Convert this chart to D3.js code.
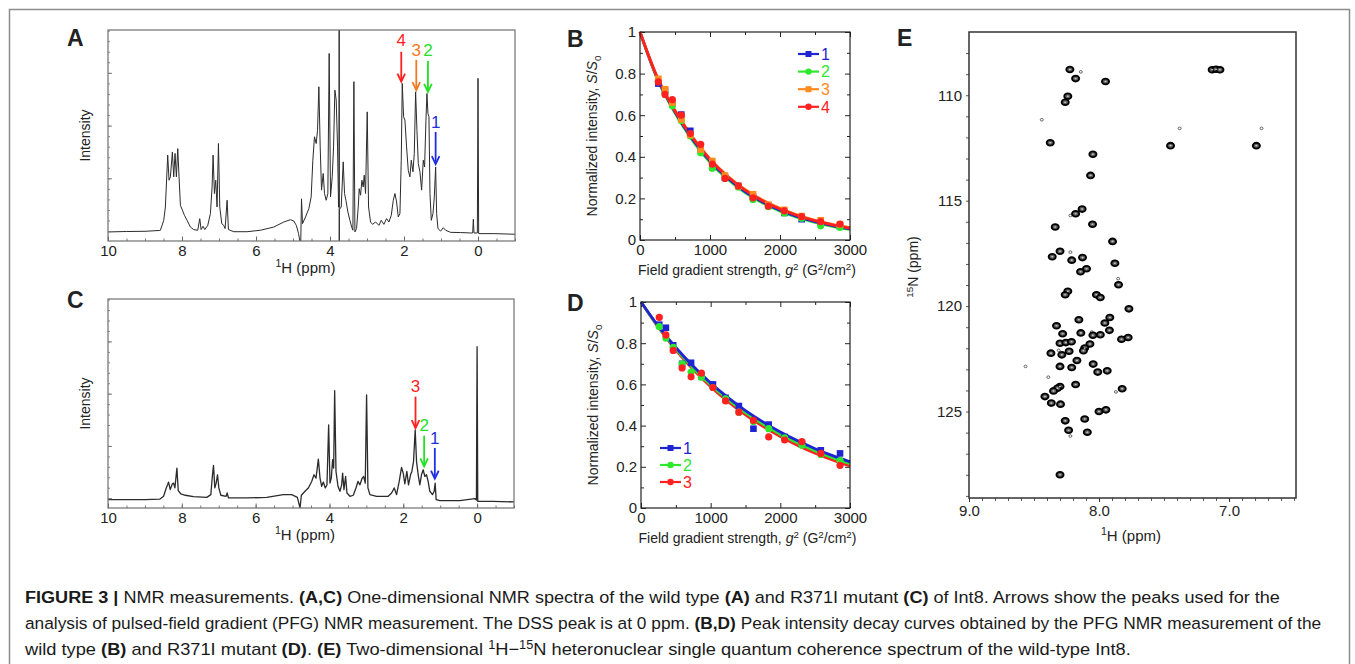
<!DOCTYPE html>
<html>
<head>
<meta charset="utf-8">
<script src="https://cdn.jsdelivr.net/npm/d3@7"></script>
<style>
  body { margin: 0; background: #fff; }
  text { font-family: "Liberation Sans", Arial, Helvetica, sans-serif; fill: #222; }
</style>
</head>
<body>
<script>
// ---------- data ----------
// 1D spectra: [ppm, relative intensity]
const specA = [[10,0.043],[9.5,0.045],[9,0.046],[8.6,0.05],[8.584,0.051],[8.494,0.098],[8.449,0.161],[8.386,0.407],[8.35,0.288],[8.314,0.304],[8.26,0.422],[8.224,0.304],[8.188,0.415],[8.152,0.304],[8.115,0.438],[8.08,0.304],[8.043,0.169],[7.989,0.146],[7.935,0.122],[7.863,0.098],[7.773,0.066],[7.683,0.054],[7.574,0.051],[7.52,0.106],[7.484,0.054],[7.43,0.07],[7.385,0.054],[7.304,0.074],[7.232,0.13],[7.187,0.256],[7.16,0.407],[7.124,0.225],[7.088,0.288],[7.052,0.161],[7.015,0.462],[6.979,0.161],[6.925,0.082],[6.871,0.074],[6.835,0.059],[6.781,0.193],[6.745,0.054],[6.6,0.044],[6.24,0.044],[5.88,0.051],[5.52,0.066],[5.25,0.09],[5.07,0.101],[4.98,0.095],[4.91,0.074],[4.85,0.035],[4.815,0],[4.79,0],[4.77,0.2],[4.743,0.082],[4.662,0.114],[4.572,0.153],[4.509,0.209],[4.464,0.383],[4.419,0.494],[4.373,0.462],[4.337,0.525],[4.301,0.731],[4.265,0.446],[4.229,0.241],[4.184,0.32],[4.148,0.225],[4.103,0.193],[4.058,0.225],[4.022,0.889],[3.986,0.209],[3.94,0.304],[3.904,0.446],[3.868,0.715],[3.832,0.668],[3.796,0.446],[3.769,0.161],[3.755,0.16],[3.752,1.0],[3.75,0],[3.747,0.15],[3.697,0.161],[3.643,0.375],[3.607,0.225],[3.57,0.193],[3.517,0.138],[3.462,0.098],[3.408,0.063],[3.381,0.051],[3.354,0.755],[3.327,0.043],[3.282,0.059],[3.237,0.161],[3.21,0.248],[3.174,0.217],[3.138,0.288],[3.102,0.256],[3.075,0.312],[3.039,0.225],[2.994,0.612],[2.958,0.161],[2.904,0.09],[2.85,0.079],[2.768,0.09],[2.678,0.074],[2.615,0.098],[2.543,0.079],[2.471,0.106],[2.408,0.09],[2.344,0.122],[2.29,0.193],[2.245,0.225],[2.2,0.185],[2.155,0.114],[2.11,0.13],[2.074,0.383],[2.047,0.747],[2.011,0.589],[1.975,0.573],[1.93,0.446],[1.885,0.335],[1.84,0.304],[1.803,0.383],[1.758,0.328],[1.722,0.415],[1.686,0.707],[1.65,0.525],[1.614,0.367],[1.569,0.328],[1.524,0.241],[1.479,0.383],[1.443,0.351],[1.407,0.573],[1.38,0.699],[1.353,0.604],[1.326,0.589],[1.298,0.225],[1.262,0.098],[1.217,0.13],[1.181,0.209],[1.145,0.351],[1.118,0.13],[1.082,0.059],[1.01,0.047],[0.938,0.063],[0.875,0.051],[0.74,0.041],[0.469,0.04],[0.198,0.038],[0.144,0.038],[0.126,0.103],[0.108,0.038],[0.018,0.038],[0,0.771],[-0.018,0.035],[-0.43,0.035],[-1,0.032]];

const specC = [[10,0.04],[9,0.04],[8.6,0.042],[8.494,0.056],[8.422,0.096],[8.386,0.111],[8.359,0.124],[8.314,0.088],[8.26,0.115],[8.224,0.119],[8.188,0.096],[8.133,0.191],[8.097,0.083],[8.025,0.067],[7.908,0.061],[7.683,0.054],[7.322,0.051],[7.214,0.064],[7.169,0.159],[7.142,0.204],[7.106,0.096],[7.07,0.119],[7.033,0.159],[6.997,0.096],[6.943,0.061],[6.799,0.056],[6.772,0.072],[6.736,0.048],[6.24,0.048],[5.699,0.051],[5.25,0.064],[5.023,0.064],[4.869,0.051],[4.797,0],[4.761,0.061],[4.662,0.08],[4.572,0.096],[4.481,0.127],[4.419,0.159],[4.364,0.143],[4.301,0.234],[4.256,0.143],[4.211,0.104],[4.166,0.124],[4.112,0.096],[4.067,0.111],[4.022,0.398],[3.986,0.119],[3.95,0.143],[3.914,0.231],[3.886,0.191],[3.859,0.561],[3.823,0.175],[3.769,0.104],[3.715,0.08],[3.67,0.111],[3.643,0.167],[3.607,0.088],[3.562,0.151],[3.526,0.072],[3.444,0.056],[3.354,0.061],[3.282,0.096],[3.228,0.127],[3.174,0.111],[3.12,0.14],[3.075,0.151],[3.03,0.119],[2.994,0.541],[2.958,0.096],[2.904,0.064],[2.723,0.056],[2.408,0.056],[2.317,0.072],[2.245,0.096],[2.182,0.064],[2.11,0.127],[2.047,0.194],[2.002,0.167],[1.957,0.115],[1.903,0.175],[1.858,0.111],[1.803,0.159],[1.767,0.175],[1.722,0.223],[1.677,0.374],[1.641,0.223],[1.596,0.159],[1.551,0.111],[1.506,0.159],[1.461,0.183],[1.416,0.151],[1.371,0.159],[1.326,0.127],[1.281,0.08],[1.208,0.064],[1.163,0.08],[1.136,0.119],[1.109,0.04],[1.01,0.035],[0.469,0.035],[0.063,0.045],[0.018,0.038],[0,0.772],[-0.018,0.032],[-0.43,0.032],[-1,0.029]];

// arrows: peak number, ppm, label / tail / tip intensity
const arrowsA = [
  {n:"4", ppm:2.074, label:0.953, tail:0.897, tip:0.755, color:"#ff1f1f"},
  {n:"3", ppm:1.668, label:0.905, tail:0.858, tip:0.715, color:"#f07a22"},
  {n:"2", ppm:1.353, label:0.905, tail:0.853, tip:0.707, color:"#22e022"},
  {n:"1", ppm:1.145, label:0.565, tail:0.517, tip:0.364, color:"#1f2fe0"}
];
const arrowsC = [
  {n:"3", ppm:1.668, label:0.586, tail:0.533, tip:0.382, color:"#ff1f1f"},
  {n:"2", ppm:1.434, label:0.398, tail:0.346, tip:0.199, color:"#22e022"},
  {n:"1", ppm:1.145, label:0.334, tail:0.287, tip:0.14, color:"#1f2fe0"}
];
const ppmTicks = [10, 8, 6, 4, 2, 0];

// PFG decay: g^2 (G^2/cm^2) and S/S0
const g2 = [262, 357, 462, 590, 719, 867, 1033, 1214, 1405, 1614, 1833, 2062, 2310, 2581, 2857];
const B1 = [0.752, 0.72, 0.655, 0.603, 0.525, 0.44, 0.35, 0.30, 0.26, 0.21, 0.165, 0.13, 0.10, 0.085, 0.065];
const B2 = [0.765, 0.71, 0.645, 0.575, 0.50, 0.42, 0.345, 0.30, 0.255, 0.195, 0.16, 0.13, 0.105, 0.068, 0.06];
const B3 = [0.775, 0.725, 0.66, 0.58, 0.505, 0.435, 0.38, 0.31, 0.26, 0.22, 0.17, 0.145, 0.115, 0.095, 0.075];
const B4 = [0.76, 0.70, 0.675, 0.60, 0.512, 0.46, 0.365, 0.296, 0.26, 0.203, 0.163, 0.14, 0.112, 0.088, 0.077];
const D1 = [0.89, 0.875, 0.79, 0.70, 0.705, 0.64, 0.60, 0.535, 0.495, 0.385, 0.405, 0.345, 0.31, 0.28, 0.265];
const D2 = [0.88, 0.825, 0.78, 0.70, 0.66, 0.635, 0.585, 0.53, 0.465, 0.42, 0.385, 0.34, 0.305, 0.26, 0.23];
const D3 = [0.925, 0.84, 0.765, 0.68, 0.637, 0.655, 0.585, 0.52, 0.465, 0.425, 0.345, 0.33, 0.322, 0.265, 0.207];
// fitted curves, read at these g^2
const fitX = [0, 250, 500, 750, 1000, 1250, 1500, 1750, 2000, 2250, 2500, 2750, 3000];
const fitB1 = [1, 0.775, 0.615, 0.485, 0.38, 0.298, 0.233, 0.183, 0.143, 0.112, 0.088, 0.069, 0.054];
const fitB2 = [1, 0.772, 0.61, 0.478, 0.373, 0.292, 0.228, 0.178, 0.139, 0.109, 0.085, 0.066, 0.051];
const fitB3 = [1, 0.78, 0.623, 0.495, 0.39, 0.308, 0.243, 0.192, 0.152, 0.12, 0.095, 0.075, 0.059];
const fitB4 = [1, 0.779, 0.62, 0.492, 0.387, 0.305, 0.24, 0.189, 0.149, 0.118, 0.093, 0.073, 0.057];
const fitD1 = [1, 0.882, 0.779, 0.688, 0.607, 0.536, 0.473, 0.418, 0.369, 0.326, 0.288, 0.254, 0.224];
const fitD2 = [1, 0.879, 0.773, 0.68, 0.598, 0.526, 0.463, 0.407, 0.358, 0.315, 0.277, 0.244, 0.215];
const fitD3 = [1, 0.876, 0.767, 0.672, 0.589, 0.516, 0.452, 0.396, 0.347, 0.304, 0.266, 0.233, 0.204];
const gTicks = [0, 1000, 2000, 3000];
const sTicks = [0, 0.2, 0.4, 0.6, 0.8, 1];

// 2D HSQC cross peaks: [1H ppm, 15N ppm]
const hsqcPeaks = [[8.224,108.78],[8.18,109.21],[7.95,109.35],[7.13,108.79],[7.10,108.77],[7.07,108.79],[8.24,110.05],[8.26,110.33],[8.375,112.25],[7.45,112.39],[6.79,112.39],[8.047,112.8],[8.065,113.8],[8.13,115.4],[8.18,115.62],[8.337,116.25],[8.05,116.12],[7.896,116.93],[8.30,117.4],[8.36,117.66],[8.21,117.82],[8.127,117.7],[7.878,117.97],[8.142,118.37],[8.096,118.23],[7.85,118.99],[8.24,119.3],[8.26,119.46],[8.02,119.46],[7.99,119.59],[7.77,120.13],[8.155,120.65],[7.917,120.54],[7.955,120.8],[8.327,120.93],[8.28,121.31],[8.14,121.27],[8.047,121.38],[7.99,121.36],[7.92,121.15],[7.827,121.57],[7.776,121.49],[8.30,121.76],[8.255,121.73],[8.212,121.69],[8.07,121.8],[8.11,121.99],[8.12,122.12],[8.37,122.23],[8.286,122.31],[8.23,122.14],[8.17,122.58],[8.30,122.86],[8.21,122.91],[8.045,122.75],[8.01,123.13],[7.937,123.07],[8.18,123.72],[8.30,123.81],[8.32,123.9],[8.35,124.02],[8.416,124.29],[8.367,124.6],[8.296,124.65],[7.822,123.92],[8.0,125.0],[7.947,124.92],[8.26,125.44],[8.11,125.35],[8.234,125.89],[8.09,125.98],[8.30,128.0]];
const hsqcWeak = [[8.14,108.89],[8.44,111.16],[7.38,111.57],[6.75,111.57],[8.22,115.7],[8.22,117.44],[7.853,118.7],[8.055,121.23],[8.31,122.1],[8.39,123.37],[7.87,124.07],[8.565,122.86],[8.22,126.16]];
const hTicks = [9.0, 8.0, 7.0];
const nTicks = [110, 115, 120, 125];

// ---------- drawing ----------
const svg = d3.select("body").append("svg").attr("width", 1355).attr("height", 664);

svg.append("rect").attr("x", 9.5).attr("y", 9.5).attr("width", 1340).attr("height", 720)
  .attr("fill", "none").attr("stroke", "#8c8c8c").attr("stroke-width", 1.5);

// rich text helper: parts {t, b, i, sup, sub}
function rich(text, parts, fs) {
  let shift = 0;
  parts.forEach(p => {
    const ts = text.append("tspan").text(p.t);
    const target = p.sup ? -0.38 * fs : p.sub ? 0.28 * fs : 0;
    if (target !== shift) { ts.attr("dy", target - shift); shift = target; }
    if (p.sup || p.sub) ts.attr("font-size", fs * 0.7);
    if (p.b) ts.attr("font-weight", "bold");
    if (p.i) ts.attr("font-style", "italic");
  });
  return text;
}

function panelLetter(s, x, y) {
  svg.append("text").attr("x", x).attr("y", y).attr("font-size", 23).attr("font-weight", "bold")
    .attr("fill", "#000").text(s);
}

function drawSpectrum(b, spec, arrows, id, lw) {
  const x = d3.scaleLinear().domain([10, -1]).range([b.x0, b.x1]);
  const y = d3.scaleLinear().domain([0, 1]).range([b.y1, b.y0]);
  const g = svg.append("g");

  svg.append("clipPath").attr("id", "clip" + id).append("rect")
    .attr("x", b.x0).attr("y", b.y0).attr("width", b.x1 - b.x0).attr("height", b.y1 - b.y0);

  g.append("path").datum(spec)
    .attr("d", d3.line().x(d => x(d[0])).y(d => y(d[1])))
    .attr("fill", "none").attr("stroke", "#2b2b2b").attr("stroke-width", lw)
    .attr("stroke-linejoin", "round")
    .attr("clip-path", `url(#clip${id})`);

  // minor ticks
  g.append("g").attr("transform", `translate(0,${b.y1})`)
    .call(d3.axisBottom(x).tickValues(d3.range(-1, 10.01, 0.5)).tickSize(-2.5).tickFormat(""))
    .call(a => a.select(".domain").remove())
    .call(a => a.selectAll("line").attr("stroke", "#777"));
  g.append("g").attr("transform", `translate(0,${b.y1})`)
    .call(d3.axisBottom(x).tickValues(ppmTicks).tickSize(-4.5).tickPadding(4))
    .call(a => a.select(".domain").remove())
    .call(a => a.selectAll("line").attr("stroke", "#666"))
    .call(a => a.selectAll("text").attr("font-size", 15).attr("fill", "#222"));
  g.append("g").attr("transform", `translate(${b.x0},0)`)
    .call(d3.axisLeft(y).tickValues(d3.range(0.047, 1, 0.05)).tickSize(-2).tickFormat(""))
    .call(a => a.select(".domain").remove())
    .call(a => a.selectAll("line").attr("stroke", "#888"));
  g.append("g").attr("transform", `translate(${b.x0},0)`)
    .call(d3.axisLeft(y).tickValues([0.047, 0.297, 0.547, 0.797]).tickSize(-4).tickFormat(""))
    .call(a => a.select(".domain").remove())
    .call(a => a.selectAll("line").attr("stroke", "#777"));

  g.append("rect").attr("x", b.x0).attr("y", b.y0).attr("width", b.x1 - b.x0).attr("height", b.y1 - b.y0)
    .attr("fill", "none").attr("stroke", "#707070").attr("stroke-width", 1.2);

  g.append("text").attr("transform", `translate(${b.x0 - 18},${(b.y0 + b.y1) / 2}) rotate(-90)`)
    .attr("text-anchor", "middle").attr("font-size", 14).text("Intensity");

  rich(g.append("text").attr("x", (b.x0 + b.x1) / 2 - 6).attr("y", b.y1 + 32)
    .attr("text-anchor", "middle").attr("font-size", 15),
    [{t: "1", sup: true}, {t: "H (ppm)"}], 15);

  arrows.forEach(a => {
    const ax = x(a.ppm);
    g.append("line").attr("x1", ax).attr("x2", ax).attr("y1", y(a.tail)).attr("y2", y(a.tip) - 1)
      .attr("stroke", a.color).attr("stroke-width", 1.8);
    g.append("path").attr("d", `M${ax - 3.8},${y(a.tip) - 8} L${ax},${y(a.tip)} L${ax + 3.8},${y(a.tip) - 8}`)
      .attr("fill", "none").attr("stroke", a.color).attr("stroke-width", 1.8);
    g.append("text").attr("x", ax).attr("y", y(a.label)).attr("dy", "0.36em")
      .attr("text-anchor", "middle").attr("font-size", 17).style("fill", a.color).text(a.n);
  });
}

function drawDecay(b, series, fits, legendPos) {
  const x = d3.scaleLinear().domain([0, 3000]).range([b.x0, b.x1]);
  const y = d3.scaleLinear().domain([0, 1]).range([b.y1, b.y0]);
  const g = svg.append("g");

  const tickAxis = (axisFn, scale, values, size, t) =>
    g.append("g").attr("transform", t)
      .call(axisFn(scale).tickValues(values).tickSize(size).tickFormat(""))
      .call(a => a.select(".domain").remove())
      .call(a => a.selectAll("line").attr("stroke", "#222").attr("stroke-width", 1));

  const xMinor = [500, 1500, 2500], yMinor = [0.1, 0.3, 0.5, 0.7, 0.9];
  tickAxis(d3.axisBottom, x, gTicks, -5, `translate(0,${b.y1})`);
  tickAxis(d3.axisBottom, x, xMinor, -3, `translate(0,${b.y1})`);
  tickAxis(d3.axisTop, x, gTicks, -5, `translate(0,${b.y0})`);
  tickAxis(d3.axisTop, x, xMinor, -3, `translate(0,${b.y0})`);
  tickAxis(d3.axisLeft, y, sTicks, -5, `translate(${b.x0},0)`);
  tickAxis(d3.axisLeft, y, yMinor, -3, `translate(${b.x0},0)`);
  tickAxis(d3.axisRight, y, sTicks, -5, `translate(${b.x1},0)`);
  tickAxis(d3.axisRight, y, yMinor, -3, `translate(${b.x1},0)`);

  g.append("g").attr("transform", `translate(0,${b.y1})`)
    .call(d3.axisBottom(x).tickValues(gTicks).tickSize(0).tickPadding(4).tickFormat(d3.format("d")))
    .call(a => a.select(".domain").remove())
    .call(a => a.selectAll("text").attr("font-size", 15).attr("fill", "#222"));
  g.append("g").attr("transform", `translate(${b.x0},0)`)
    .call(d3.axisLeft(y).tickValues(sTicks).tickSize(0).tickPadding(4).tickFormat(d => d === 0 || d === 1 ? d : d3.format(".1f")(d)))
    .call(a => a.select(".domain").remove())
    .call(a => a.selectAll("text").attr("font-size", 15).attr("fill", "#222"));

  const line = d3.line().x(d => x(d[0])).y(d => y(d[1])).curve(d3.curveMonotoneX);
  fits.forEach(f => {
    g.append("path").datum(fitX.map((v, i) => [v, f.vals[i]]))
      .attr("d", line).attr("fill", "none").attr("stroke", f.color).attr("stroke-width", 2.8);
  });

  series.forEach(s => {
    const pts = g2.map((v, i) => [v, s.vals[i]]);
    if (s.shape === "square") {
      g.selectAll(null).data(pts).enter().append("rect")
        .attr("x", d => x(d[0]) - 3.3).attr("y", d => y(d[1]) - 3.3)
        .attr("width", 6.6).attr("height", 6.6).attr("fill", s.color);
    } else {
      g.selectAll(null).data(pts).enter().append("circle")
        .attr("cx", d => x(d[0])).attr("cy", d => y(d[1])).attr("r", 3.6).attr("fill", s.color);
    }
  });

  g.append("rect").attr("x", b.x0).attr("y", b.y0).attr("width", b.x1 - b.x0).attr("height", b.y1 - b.y0)
    .attr("fill", "none").attr("stroke", "#222").attr("stroke-width", 1.2);

  // legend
  series.forEach((s, i) => {
    const ly = legendPos.y + i * legendPos.dy, lx = legendPos.x;
    g.append("line").attr("x1", lx).attr("x2", lx + 21).attr("y1", ly).attr("y2", ly)
      .attr("stroke", s.color).attr("stroke-width", 2.2);
    if (s.shape === "square") {
      g.append("rect").attr("x", lx + 7.5).attr("y", ly - 3).attr("width", 6).attr("height", 6).attr("fill", s.color);
    } else {
      g.append("circle").attr("cx", lx + 10.5).attr("cy", ly).attr("r", 3.2).attr("fill", s.color);
    }
    g.append("text").attr("x", lx + 23).attr("y", ly).attr("dy", "0.36em").attr("font-size", 16)
      .style("fill", s.color).text(s.name);
  });

  rich(g.append("text").attr("transform", `translate(${b.x0 - 43},${(b.y0 + b.y1) / 2}) rotate(-90)`)
    .attr("text-anchor", "middle").attr("font-size", 14),
    [{t: "Normalized intensity, "}, {t: "S", i: true}, {t: "/"}, {t: "S", i: true}, {t: "0", sub: true}], 14);

  rich(g.append("text").attr("x", (b.x0 + b.x1) / 2 + 2).attr("y", b.y1 + 35)
    .attr("text-anchor", "middle").attr("font-size", 14),
    [{t: "Field gradient strength, "}, {t: "g", i: true}, {t: "2", sup: true}, {t: " (G"}, {t: "2", sup: true},
     {t: "/cm"}, {t: "2", sup: true}, {t: ")"}], 14);
}

// Panel A and C
drawSpectrum({x0: 108, x1: 515, y0: 30, y1: 241}, specA, arrowsA, "A", 1);
drawSpectrum({x0: 108, x1: 514, y0: 299, y1: 508}, specC, arrowsC, "C", 1.3);
panelLetter("A", 67, 46);
panelLetter("C", 67, 308);

// Panel B and D
const blue = "#1f24d2", green = "#2ee82e", orange = "#ff8a1e", red = "#ff2020";
drawDecay({x0: 640, x1: 850, y0: 32, y1: 240},
  [{name: "1", vals: B1, color: blue, shape: "square"},
   {name: "2", vals: B2, color: green, shape: "circle"},
   {name: "3", vals: B3, color: orange, shape: "square"},
   {name: "4", vals: B4, color: red, shape: "circle"}],
  [{vals: fitB2, color: green}, {vals: fitB1, color: blue}, {vals: fitB3, color: orange}, {vals: fitB4, color: red}],
  {x: 798, y: 54, dy: 17.6});
drawDecay({x0: 641, x1: 850, y0: 302, y1: 508},
  [{name: "1", vals: D1, color: blue, shape: "square"},
   {name: "2", vals: D2, color: green, shape: "circle"},
   {name: "3", vals: D3, color: red, shape: "circle"}],
  [{vals: fitD3, color: red}, {vals: fitD2, color: green}, {vals: fitD1, color: blue}],
  {x: 660, y: 448, dy: 17});
panelLetter("B", 567, 47);
panelLetter("D", 567, 311);

// Panel E
(function () {
  const b = {x0: 969, x1: 1296, y0: 32, y1: 498};
  const x = d3.scaleLinear().domain([9.0, 6.485]).range([b.x0, b.x1]);
  const y = d3.scaleLinear().domain([107.0, 129.1]).range([b.y0, b.y1]);
  const g = svg.append("g");

  g.append("g").attr("transform", `translate(0,${b.y1})`)
    .call(d3.axisBottom(x).tickValues(d3.range(6.5, 9.001, 0.1)).tickSize(3).tickFormat(""))
    .call(a => a.select(".domain").remove())
    .call(a => a.selectAll("line").attr("stroke", "#555"));
  g.append("g").attr("transform", `translate(0,${b.y1})`)
    .call(d3.axisBottom(x).tickValues(hTicks).tickSize(4).tickPadding(3).tickFormat(d3.format(".1f")))
    .call(a => a.select(".domain").remove())
    .call(a => a.selectAll("line").attr("stroke", "#333"))
    .call(a => a.selectAll("text").attr("font-size", 15).attr("fill", "#222"));
  g.append("g").attr("transform", `translate(${b.x0},0)`)
    .call(d3.axisLeft(y).tickValues(d3.range(108, 129.01, 1)).tickSize(3).tickFormat(""))
    .call(a => a.select(".domain").remove())
    .call(a => a.selectAll("line").attr("stroke", "#555"));
  g.append("g").attr("transform", `translate(${b.x0},0)`)
    .call(d3.axisLeft(y).tickValues(nTicks).tickSize(0).tickPadding(7))
    .call(a => a.select(".domain").remove())
    .call(a => a.selectAll("text").attr("font-size", 15).attr("fill", "#222"));

  g.selectAll(null).data(hsqcWeak).enter().append("ellipse")
    .attr("cx", d => x(d[0])).attr("cy", d => y(d[1])).attr("rx", 1.5).attr("ry", 1.3)
    .attr("fill", "#fff").attr("stroke", "#555").attr("stroke-width", 0.9);
  g.selectAll(null).data(hsqcPeaks).enter().append("ellipse")
    .attr("cx", d => x(d[0])).attr("cy", d => y(d[1])).attr("rx", 3.6).attr("ry", 2.9)
    .attr("fill", "#5e5e5e").attr("stroke", "#000").attr("stroke-width", 1.8);
  g.selectAll(null).data(hsqcPeaks).enter().append("ellipse")
    .attr("cx", d => x(d[0])).attr("cy", d => y(d[1])).attr("rx", 1.1).attr("ry", 0.8)
    .attr("fill", "#c8c8c8");

  g.append("rect").attr("x", b.x0).attr("y", b.y0).attr("width", b.x1 - b.x0).attr("height", b.y1 - b.y0)
    .attr("fill", "none").attr("stroke", "#333").attr("stroke-width", 1.5);

  rich(g.append("text").attr("transform", `translate(${b.x0 - 51},${(b.y0 + b.y1) / 2 + 2}) rotate(-90)`)
    .attr("text-anchor", "middle").attr("font-size", 14),
    [{t: "15", sup: true}, {t: "N (ppm)"}], 14);
  rich(g.append("text").attr("x", 1131).attr("y", 541).attr("text-anchor", "middle").attr("font-size", 15),
    [{t: "1", sup: true}, {t: "H (ppm)"}], 15);
})();
panelLetter("E", 897, 46);

// ---------- caption ----------
const captionLines = [
  {y: 603, w: 1256, parts: [{t: "FIGURE 3 | ", b: true}, {t: "NMR measurements. "}, {t: "(A,C)", b: true},
    {t: " One-dimensional NMR spectra of the wild type "}, {t: "(A)", b: true}, {t: " and R371I mutant "},
    {t: "(C)", b: true}, {t: " of Int8. Arrows show the peaks used for the"}]},
  {y: 629, w: 1297, parts: [{t: "analysis of pulsed-field gradient (PFG) NMR measurement. The DSS peak is at 0 ppm. "},
    {t: "(B,D)", b: true}, {t: " Peak intensity decay curves obtained by the PFG NMR measurement of the"}]},
  {y: 655, w: 1107, parts: [{t: "wild type "}, {t: "(B)", b: true}, {t: " and R371I mutant "}, {t: "(D)", b: true},
    {t: ". "}, {t: "(E)", b: true}, {t: " Two-dimensional "}, {t: "1", sup: true}, {t: "H\u2212"}, {t: "15", sup: true},
    {t: "N heteronuclear single quantum coherence spectrum of the wild-type Int8."}]}
];
captionLines.forEach(l => {
  const t = rich(svg.append("text").attr("x", 25).attr("y", l.y).attr("font-size", 17).style("fill", "#1a1a1a"), l.parts, 17);
  const len = t.node().getComputedTextLength();
  if (len > 0) t.attr("transform", `translate(25,0) scale(${l.w / len},1) translate(-25,0)`);
});
</script>
</body>
</html>
